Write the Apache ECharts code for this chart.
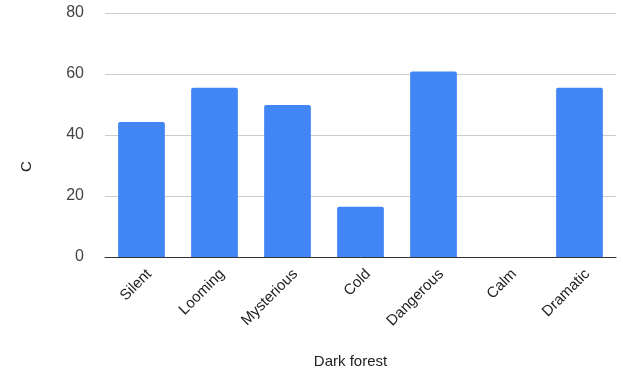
<!DOCTYPE html>
<html>
<head>
<meta charset="utf-8">
<script src="https://cdn.jsdelivr.net/npm/echarts@6/dist/echarts.min.js"></script>
<style>
  html, body { margin: 0; padding: 0; background: #fff; }
  #chart { width: 623px; height: 374px; }
</style>
</head>
<body>
<div id="chart"></div>
<script>
// categories and values
var categories = ['Silent', 'Looming', 'Mysterious', 'Cold', 'Dangerous', 'Calm', 'Dramatic']
var values = [44.3, 55.5, 49.8, 16.5, 60.8, 0, 55.5]
var yTicks = [0, 20, 40, 60, 80]

var chart = echarts.init(document.getElementById('chart'))
chart.setOption({
    animation: false,
    textStyle: { fontFamily: 'Liberation Sans, Arial, sans-serif' },
    grid: {
        left: 105,
        right: 7,
        top: 13,
        bottom: 116
    },
    xAxis: {
        type: 'category',
        data: categories,
        name: 'Dark forest',
        nameLocation: 'middle',
        nameGap: 97,
        nameTextStyle: {
            color: '#222',
            fontSize: 15,
            padding: [0, 20, 0, 0]
        },
        axisTick: { show: false },
        axisLine: {
            show: true,
            lineStyle: { color: '#333', width: 1 }
        },
        axisLabel: {
            rotate: 45,
            interval: 0,
            color: '#222',
            fontSize: 15,
            margin: 7,
            // top-aligned with a tall line so the rotated text sits a bit right/down
            verticalAlign: 'top',
            lineHeight: 22
        }
    },
    yAxis: {
        type: 'value',
        min: yTicks[0],
        max: yTicks[yTicks.length - 1],
        interval: 20,
        name: 'C',
        nameLocation: 'middle',
        nameGap: 71,
        nameTextStyle: {
            color: '#222',
            fontSize: 15,
            padding: [0, 63, 0, 0]
        },
        axisLine: { show: false },
        axisTick: { show: false },
        axisLabel: {
            color: '#444',
            fontSize: 16,
            margin: 21
        },
        splitLine: {
            show: true,
            lineStyle: { color: '#ccc', width: 1 }
        }
    },
    series: [
        {
            type: 'bar',
            data: values,
            barWidth: '64%',
            itemStyle: {
                color: '#4285F4',
                borderRadius: [2, 2, 0, 0]
            }
        }
    ]
})
</script>
</body>
</html>
